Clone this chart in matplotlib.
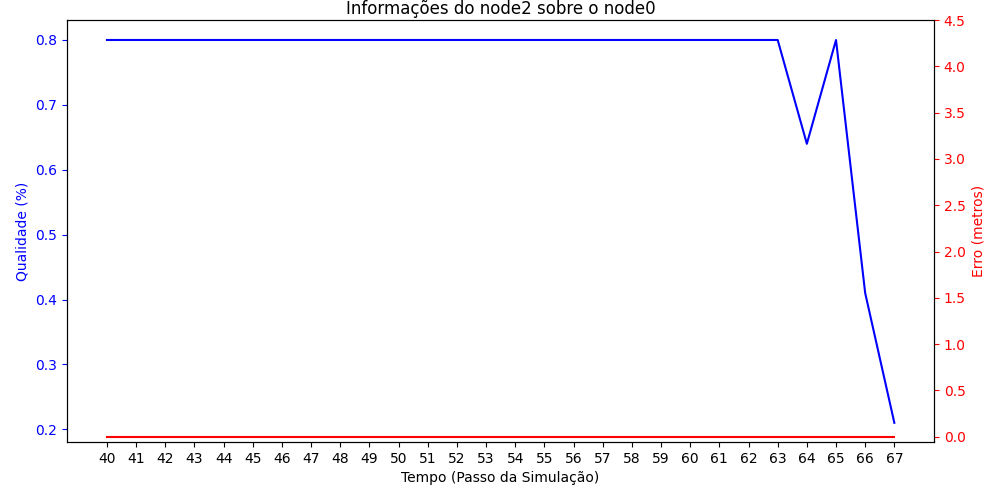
import matplotlib
matplotlib.use('Agg')
import matplotlib.pyplot as plt

passos = list(range(40, 68))
qualidade = [0.8] * 24 + [0.64, 0.8, 0.41, 0.21]
erro = [0.0] * 28

fig = plt.figure(figsize=(10, 5), dpi=100)
ax = fig.add_axes([0.067, 0.116, 0.867, 0.844])
ax.plot(passos, qualidade, color='blue')
ax.set_xticks(passos)
ax.set_xlim(38.63, 68.36)
ax.set_ylim(0.1804, 0.8308)
ax.set_xlabel('Tempo (Passo da Simulação)')
ax.set_ylabel('Qualidade (%)', color='blue')
ax.tick_params(axis='y', colors='blue')
ax.set_title('Informações do node2 sobre o node0', pad=4)

ax2 = ax.twinx()
ax2.plot(passos, erro, color='red')
ax2.set_ylim(-0.057, 4.5)
ax2.set_yticks([0.0, 0.5, 1.0, 1.5, 2.0, 2.5, 3.0, 3.5, 4.0, 4.5])
ax2.set_ylabel('Erro (metros)', color='red')
ax2.tick_params(axis='y', colors='red')

fig.savefig('out.png', dpi=100)
